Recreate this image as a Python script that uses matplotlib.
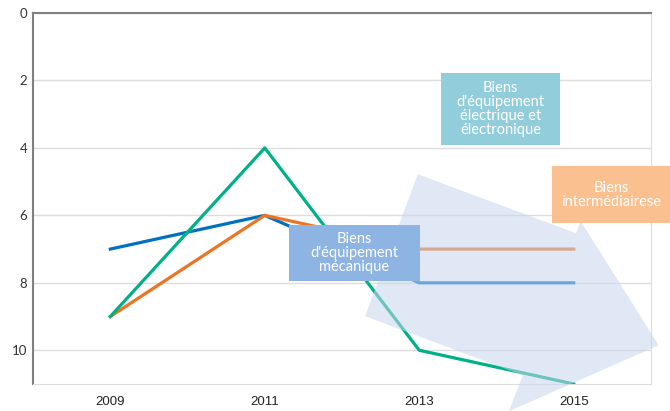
import numpy as np
import matplotlib
matplotlib.use("Agg")
import matplotlib.pyplot as plt
from matplotlib.patches import Polygon

# données
years = [2009, 2011, 2013, 2015]
rang_mecanique = [7, 6, 8, 8]
rang_intermediaire = [9, 6, 7, 7]
rang_electrique = [9, 4, 10, 11]
y_ticks = [0, 2, 4, 6, 8, 10]

# flèche décorative (coordonnées en données)
arrow_x = [2012.98, 2015.03, 2015.09, 2016.10, 2014.16, 2014.34, 2012.30]
arrow_y = [4.78, 6.53, 6.17, 9.85, 11.81, 10.74, 8.99]

fig = plt.figure(figsize=(6.7, 4.11), dpi=100)
ax = fig.add_axes([0.0493, 0.0657, 0.9223, 0.9027])

ax.plot(years, rang_mecanique, color="#0070C0", lw=2.3, zorder=3)
ax.plot(years, rang_intermediaire, color="#EB7524", lw=2.3, zorder=3)
ax.plot(years, rang_electrique, color="#00B088", lw=2.3, zorder=3)

arrow = Polygon(np.column_stack([arrow_x, arrow_y]), closed=True,
                facecolor="#C8D5EE", edgecolor="none", alpha=0.55,
                zorder=4, clip_on=False)
ax.add_patch(arrow)

ax.set_xlim(2008, 2016)
ax.set_ylim(11, 0)
ax.set_xticks(years)
ax.set_yticks(y_ticks)
ax.tick_params(length=0)
ax.tick_params(axis="y", labelsize=9.5, labelcolor="#333333", pad=4)
ax.tick_params(axis="x", labelsize=9.5, labelcolor="#222222", pad=9)
for lab in ax.get_yticklabels():
    lab.set_family("Lato")
for lab in ax.get_xticklabels():
    lab.set_family("Liberation Sans")

ax.grid(axis="y", color="#DDDDDD", lw=1)
ax.set_axisbelow(True)
ax.spines["left"].set_color("#808080")
ax.spines["left"].set_linewidth(1.5)
ax.spines["bottom"].set_color("#DDDDDD")
ax.spines["right"].set_color("#DDDDDD")
ax.spines["top"].set_color("#808080")
ax.spines["top"].set_linewidth(1.5)

# étiquettes en boîtes (coordonnées figure en pixels)
W, H = 670, 411


def boite(x0, y0, x1, y1, color, text):
    r = plt.Rectangle((x0 / W, 1 - y1 / H), (x1 - x0) / W, (y1 - y0) / H,
                      transform=fig.transFigure, facecolor=color,
                      edgecolor="none", zorder=10)
    fig.patches.append(r)
    fig.text((x0 + x1) / 2 / W, 1 - (y0 + y1) / 2 / H, text, color="white",
             ha="center", va="center", fontsize=10.5, family="Lato",
             linespacing=1.0, zorder=11)


boite(441, 73, 560, 145, "#92CDDC",
      "Biens\nd'équipement\nélectrique et\nélectronique")
boite(552, 166, 670, 223, "#FAC090", "Biens\nintermédiairese")
boite(289, 225, 420, 281, "#8EB4E3", "Biens\nd'équipement\nmécanique")

fig.savefig("out.png", dpi=100)
